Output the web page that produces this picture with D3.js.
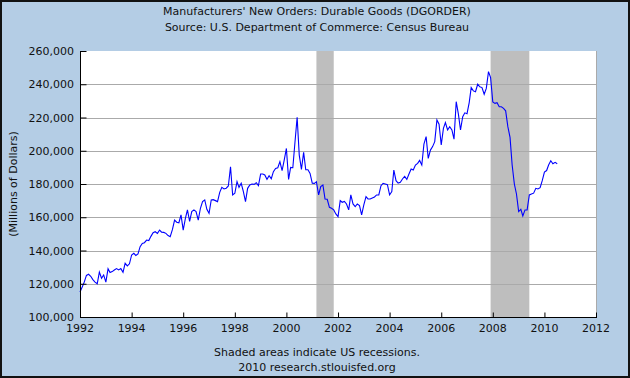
<!DOCTYPE html>
<html>
<head>
<meta charset="utf-8">
<script src="https://cdn.jsdelivr.net/npm/d3@7"></script>
<style>
  html, body { margin: 0; padding: 0; background: #fff; }
  svg { display: block; }
  text { font-family: "DejaVu Sans", Verdana, sans-serif; fill: #111; }
</style>
</head>
<body>
<svg id="chart" width="630" height="378"></svg>
<script>
// ---------- data ----------
const titleLines = [
  "Manufacturers' New Orders: Durable Goods (DGORDER)",
  "Source: U.S. Department of Commerce: Census Bureau"
];
const yAxisTitle = "(Millions of Dollars)";
const footerLines = ["Shaded areas indicate US recessions.", "2010 research.stlouisfed.org"];

// monthly observations, first one is January 1992
const firstMonth = "1992-01";
const values = [
  115000,118000,121000,125000,125700,124500,122500,121000,120000,127000,123300,125300,
  121000,129000,126700,127300,128300,129100,128300,129100,126900,132300,130700,132000,
  137300,138300,137000,138000,142300,144300,144700,146300,146000,148500,150700,151300,
  150300,152300,151000,150900,150300,149000,148300,152500,158300,157000,156700,161400,
  152300,159300,164400,157500,163400,164400,163400,158300,165400,169400,170400,164800,
  162400,170400,170600,170000,169400,175000,178000,177000,177500,178800,190400,173400,
  174400,181400,178000,180400,175500,169400,177400,179400,180000,179800,180800,179000,
  186000,186000,185400,182800,185000,183200,187400,189400,189800,193400,188000,194400,
  201400,182800,190000,189800,205000,220100,197400,188800,199000,188600,188600,186400,
  180500,180400,181400,173400,178400,179400,171000,170800,166000,165400,164400,162000,
  160400,170000,169000,169500,168000,164400,173500,168000,166400,168000,167000,161400,
  167400,172400,171000,171000,171600,172200,173400,173400,179000,180400,180000,179600,
  173400,175400,188400,182000,180600,181000,183000,184600,182800,186000,189000,188400,
  191400,192400,194200,191400,204000,208500,195400,200400,202500,205500,218500,216000,
  203500,213500,217000,212500,214500,212500,207000,229500,222000,212500,220500,222800,
  222300,229000,238000,236000,235500,240000,238500,238000,234000,237500,247600,244000,
  229300,228500,228900,226500,226500,225500,224000,214500,208000,191400,180000,174000,
  163400,164800,160800,164400,164400,173400,174000,174500,177400,177000,177800,182000,
  187200,188100,191400,194000,192200,193000,192200
];

const recessionStarts = ["2001-03-01", "2007-12-01"];
const recessionEnds   = ["2001-11-01", "2009-06-01"];

const xTickYears = [1992,1994,1996,1998,2000,2002,2004,2006,2008,2010,2012];
const yTickValues = [100000,120000,140000,160000,180000,200000,220000,240000,260000];
const xDomainYears = [1992, 2012];
const yDomain = [100000, 260000];

// ---------- drawing ----------
const W = 630, H = 378;
const plot = { left: 80, right: 596, top: 51, bottom: 317 };

const svg = d3.select("#chart");

svg.append("rect").attr("x", 0).attr("y", 0).attr("width", W).attr("height", H)
  .attr("fill", "#B4CDE5");
svg.append("rect").attr("x", 1).attr("y", 1).attr("width", W - 2).attr("height", H - 2)
  .attr("fill", "none").attr("stroke", "#111").attr("stroke-width", 2);

const parseMonth = d3.timeParse("%Y-%m");
const parseDay = d3.timeParse("%Y-%m-%d");
const start = parseMonth(firstMonth);
const data = values.map((v, i) => ({ date: d3.timeMonth.offset(start, i), value: v }));

const x = d3.scaleTime()
  .domain(xDomainYears.map(y => new Date(y, 0, 1)))
  .range([plot.left, plot.right]);
const y = d3.scaleLinear().domain(yDomain).range([plot.bottom, plot.top]);

// plot background
svg.append("rect")
  .attr("x", plot.left).attr("y", plot.top)
  .attr("width", plot.right - plot.left).attr("height", plot.bottom - plot.top)
  .attr("fill", "#fff");

// recession shading
svg.append("g").selectAll("rect")
  .data(recessionStarts.map((s, i) => [parseDay(s), parseDay(recessionEnds[i])]))
  .join("rect")
  .attr("x", d => x(d[0]))
  .attr("width", d => x(d[1]) - x(d[0]))
  .attr("y", plot.top)
  .attr("height", plot.bottom - plot.top)
  .attr("fill", "#BEBEBE");

// horizontal grid lines
svg.append("g").selectAll("line")
  .data(yTickValues.filter(v => v > yDomain[0] && v < yDomain[1]))
  .join("line")
  .attr("x1", plot.left).attr("x2", plot.right)
  .attr("y1", d => Math.round(y(d)) + 0.5).attr("y2", d => Math.round(y(d)) + 0.5)
  .attr("stroke", "#AAAAAA").attr("stroke-width", 1);

// right edge
svg.append("line")
  .attr("x1", plot.right + 0.5).attr("x2", plot.right + 0.5)
  .attr("y1", plot.top).attr("y2", plot.bottom)
  .attr("stroke", "#AAAAAA");

// data line
const line = d3.line()
  .x(d => x(d.date))
  .y(d => y(d.value));
svg.append("path")
  .datum(data)
  .attr("d", line)
  .attr("fill", "none")
  .attr("stroke", "#0000FF")
  .attr("stroke-width", 1.1)
  .attr("stroke-linejoin", "miter");

// y axis (ticks inward)
const yAxis = d3.axisRight(y)
  .tickValues(yTickValues)
  .tickSize(6)
  .tickFormat("");
const yg = svg.append("g").attr("transform", `translate(${plot.left + 0.5},0)`).call(yAxis);
yg.select(".domain").attr("stroke", "#000").attr("d", `M0,${plot.top}V${plot.bottom + 0.5}`);
yg.selectAll(".tick line").attr("stroke", "#000");

svg.append("g").selectAll("text")
  .data(yTickValues)
  .join("text")
  .attr("x", plot.left - 6)
  .attr("y", d => y(d) + 4)
  .attr("text-anchor", "end")
  .attr("font-size", "11px")
  .text(d3.format(","));

// x axis (ticks inward)
const xTickDates = xTickYears.map(yr => new Date(yr, 0, 1));
const xAxis = d3.axisTop(x)
  .tickValues(xTickDates)
  .tickSize(5)
  .tickFormat("");
const xg = svg.append("g").attr("transform", `translate(0,${plot.bottom + 0.5})`).call(xAxis);
xg.select(".domain").attr("stroke", "#000").attr("d", `M${plot.left},0H${plot.right + 1}`);
xg.selectAll(".tick line").attr("stroke", "#000");

svg.append("g").selectAll("text")
  .data(xTickDates)
  .join("text")
  .attr("x", d => x(d))
  .attr("y", plot.bottom + 15)
  .attr("text-anchor", "middle")
  .attr("font-size", "11px")
  .text(d3.timeFormat("%Y"));

// y axis title
svg.append("text")
  .attr("transform", `translate(17,${(plot.top + plot.bottom) / 2}) rotate(-90)`)
  .attr("text-anchor", "middle")
  .attr("font-size", "11px")
  .text(yAxisTitle);

// titles
svg.append("g").selectAll("text")
  .data(titleLines)
  .join("text")
  .attr("x", W / 2 + 2)
  .attr("y", (d, i) => 15 + i * 16)
  .attr("text-anchor", "middle")
  .attr("font-size", "11px")
  .text(d => d);

// footer
svg.append("g").selectAll("text")
  .data(footerLines)
  .join("text")
  .attr("x", W / 2 + 2)
  .attr("y", (d, i) => 356 + i * 15)
  .attr("text-anchor", "middle")
  .attr("font-size", "11px")
  .text(d => d);
</script>
</body>
</html>
